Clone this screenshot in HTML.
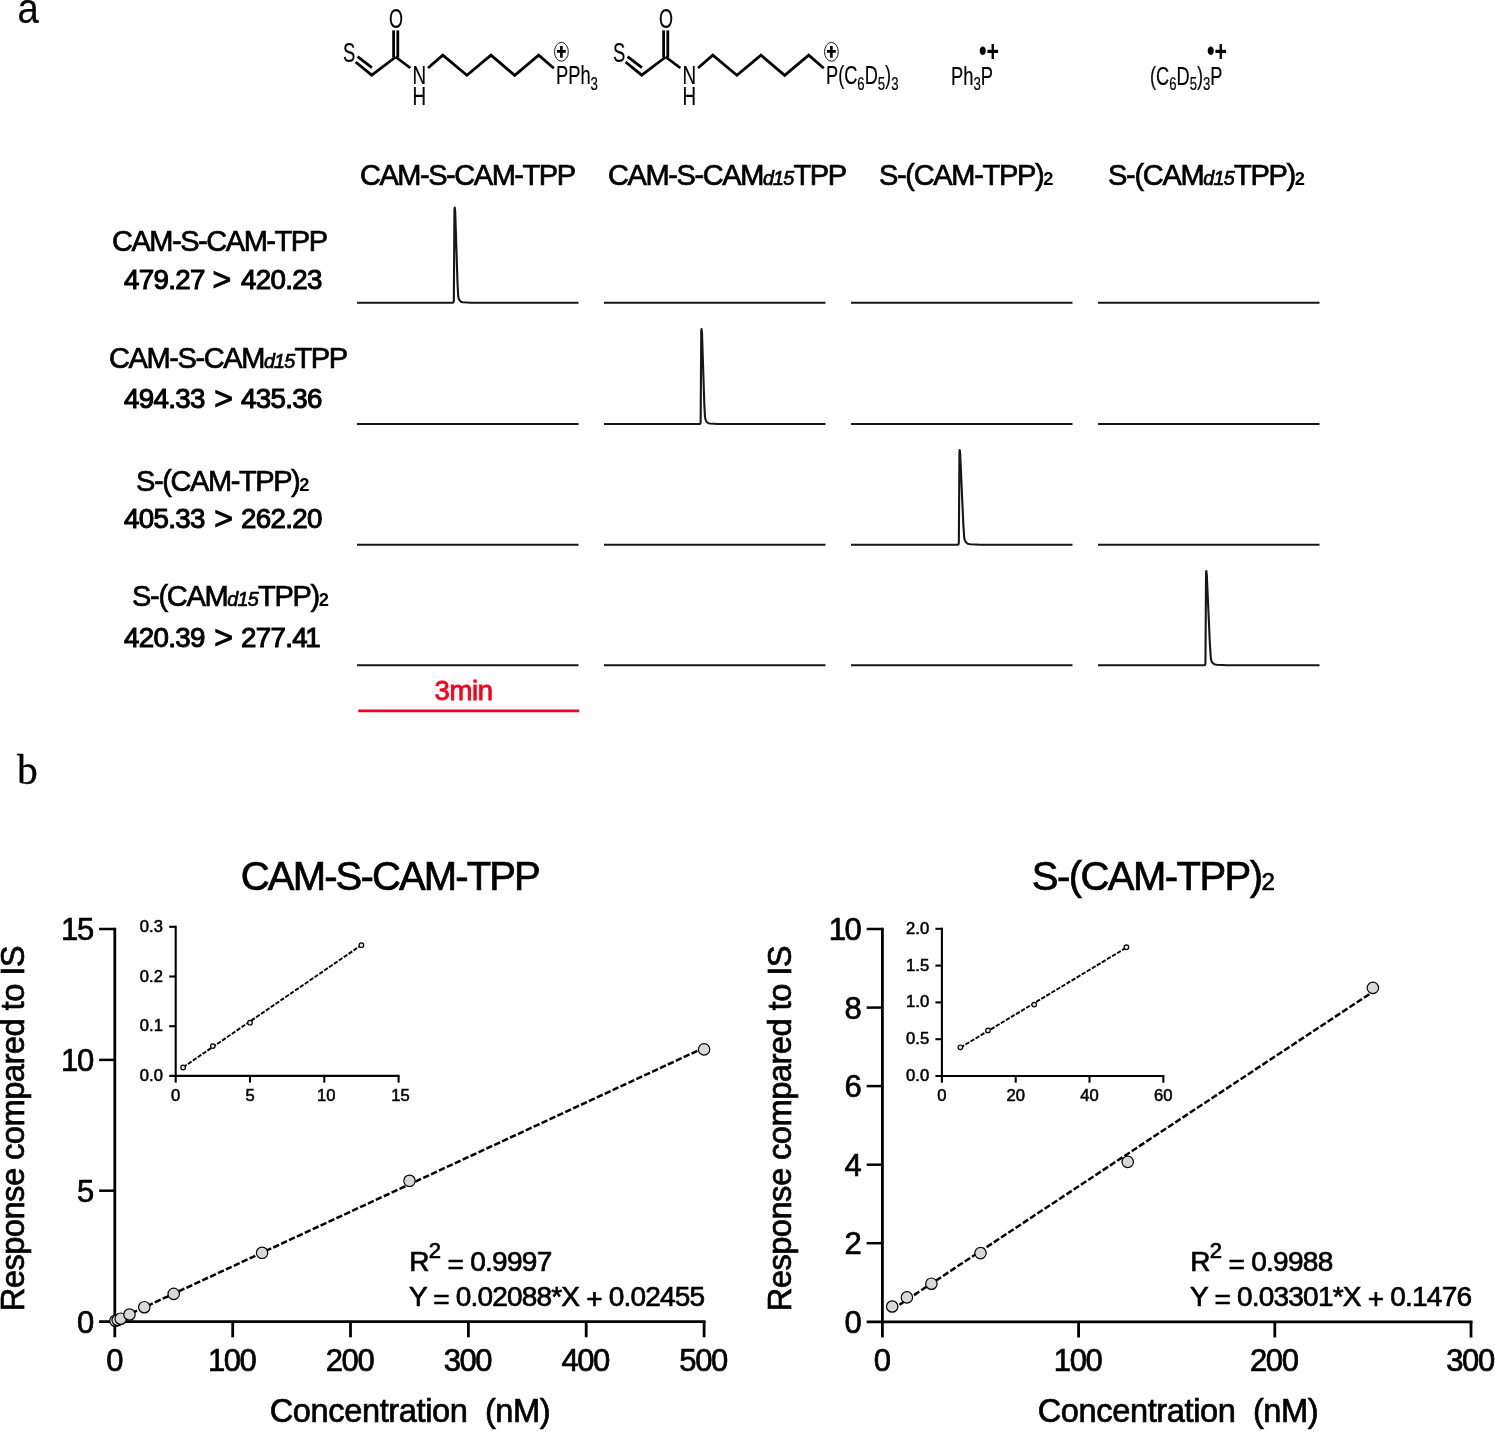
<!DOCTYPE html>
<html lang="en"><head><meta charset="utf-8"><title>Figure</title>
<style>html,body{margin:0;padding:0;background:#fff;}body{width:1495px;height:1431px;overflow:hidden;}svg{display:block;}text{font-family:"Liberation Sans",sans-serif;}.ser{font-family:"Liberation Serif",serif;}.b{stroke:#000;stroke-width:0.7px;}.n{stroke:#000;stroke-width:1.05px;}.c{stroke:#000;stroke-width:0.2px;}.s{stroke:#000;stroke-width:0.55px;}</style>
</head><body>
<svg width="1495" height="1431" viewBox="0 0 1495 1431">
<rect width="1495" height="1431" fill="#fff"/>
<text transform="translate(17.5,23.1) scale(0.9,1)" font-size="42.5" class="c">a</text>
<text x="16.9" y="784.2" font-size="41.6" class="ser" stroke="#000" stroke-width="0.3">b</text>
<g transform="translate(0,0)">
<g fill="none" stroke="#000" stroke-width="2.8" stroke-linecap="butt" stroke-linejoin="miter">
<path d="M355.6,62.0 L371.7,75.2 L395.7,57.0"/>
<path d="M357.6,56.6 L371.9,67.6"/>
<path d="M393.6,30.4 V57.5"/>
<path d="M397.8,30.4 V57.5"/>
<path d="M395.7,57.0 L410.4,68.0"/>
<path d="M428,68.0 L442.8,55.2 L466.9,75.3 L491,55.2 L514.7,75.3 L538.7,55.2 L553.8,68.2"/>
</g>
<text x="343.0" y="62.0" font-size="27" textLength="12.3" lengthAdjust="spacingAndGlyphs" class="c" >S</text>
<text x="388.9" y="27.9" font-size="27" textLength="14.0" lengthAdjust="spacingAndGlyphs" class="c" >O</text>
<text x="412.5" y="83.9" font-size="25.7" textLength="13.6" lengthAdjust="spacingAndGlyphs" class="c" >N</text>
<text x="412.5" y="104.8" font-size="25.7" textLength="13.6" lengthAdjust="spacingAndGlyphs" class="c" >H</text>
<ellipse cx="561.4" cy="51.8" rx="6.9" ry="9.4" fill="none" stroke="#000" stroke-width="0.9"/>
<path d="M557,51.4 H565.8 M561.4,46.1 V57.7" stroke="#000" stroke-width="2.6" fill="none"/>
<text class="c" x="556" y="83.7" font-size="25.7" textLength="42" lengthAdjust="spacingAndGlyphs">PPh<tspan dy="6.4" font-size="18.6">3</tspan></text>
</g>
<g transform="translate(270,0)">
<g fill="none" stroke="#000" stroke-width="2.8" stroke-linecap="butt" stroke-linejoin="miter">
<path d="M355.6,62.0 L371.7,75.2 L395.7,57.0"/>
<path d="M357.6,56.6 L371.9,67.6"/>
<path d="M393.6,30.4 V57.5"/>
<path d="M397.8,30.4 V57.5"/>
<path d="M395.7,57.0 L410.4,68.0"/>
<path d="M428,68.0 L442.8,55.2 L466.9,75.3 L491,55.2 L514.7,75.3 L538.7,55.2 L553.8,68.2"/>
</g>
<text x="343.0" y="62.0" font-size="27" textLength="12.3" lengthAdjust="spacingAndGlyphs" class="c" >S</text>
<text x="388.9" y="27.9" font-size="27" textLength="14.0" lengthAdjust="spacingAndGlyphs" class="c" >O</text>
<text x="412.5" y="83.9" font-size="25.7" textLength="13.6" lengthAdjust="spacingAndGlyphs" class="c" >N</text>
<text x="412.5" y="104.8" font-size="25.7" textLength="13.6" lengthAdjust="spacingAndGlyphs" class="c" >H</text>
<ellipse cx="561.4" cy="51.8" rx="6.9" ry="9.4" fill="none" stroke="#000" stroke-width="0.9"/>
<path d="M557,51.4 H565.8 M561.4,46.1 V57.7" stroke="#000" stroke-width="2.6" fill="none"/>
<text class="c" x="556" y="83.7" font-size="25.7" textLength="72.5" lengthAdjust="spacingAndGlyphs">P(C<tspan dy="6.4" font-size="18.6">6</tspan><tspan dy="-6.4">D</tspan><tspan dy="6.4" font-size="18.6">5</tspan><tspan dy="-6.4">)</tspan><tspan dy="6.4" font-size="18.6">3</tspan></text>
</g>
<text class="c" x="951" y="84.6" font-size="25.7" textLength="42" lengthAdjust="spacingAndGlyphs">Ph<tspan dy="5.5" font-size="18.6">3</tspan><tspan dy="-5.5">P</tspan></text>
<text transform="translate(979,61.0) scale(1,1.2)" font-size="25" font-weight="bold" textLength="20" lengthAdjust="spacingAndGlyphs">•+</text>
<text class="c" x="1150" y="84.6" font-size="25.7" textLength="72.5" lengthAdjust="spacingAndGlyphs">(C<tspan dy="5.5" font-size="18.6">6</tspan><tspan dy="-5.5">D</tspan><tspan dy="5.5" font-size="18.6">5</tspan><tspan dy="-5.5">)</tspan><tspan dy="5.5" font-size="18.6">3</tspan><tspan dy="-5.5">P</tspan></text>
<text transform="translate(1207,61.0) scale(1,1.2)" font-size="25" font-weight="bold" textLength="20" lengthAdjust="spacingAndGlyphs">•+</text>
<text x="360" y="185" font-size="29" textLength="216" lengthAdjust="spacing" class="b" >CAM-S-CAM-TPP</text>
<text class="b" x="608" y="185" font-size="29" textLength="239" lengthAdjust="spacing">CAM-S-CAM<tspan font-size="19.7" font-style="italic" stroke-width="0.7" letter-spacing="0.6">d15</tspan>TPP</text>
<text class="b" x="879" y="185" font-size="29" textLength="174.5" lengthAdjust="spacing">S-(CAM-TPP)<tspan font-size="18.3" font-weight="bold" stroke-width="0">2</tspan></text>
<text class="b" x="1108" y="185" font-size="29" textLength="197" lengthAdjust="spacing">S-(CAM<tspan font-size="19.7" font-style="italic" stroke-width="0.7" letter-spacing="0.6">d15</tspan>TPP)<tspan font-size="18.3" font-weight="bold" stroke-width="0">2</tspan></text>
<text x="112" y="251.3" font-size="29" textLength="216" lengthAdjust="spacing" class="b" >CAM-S-CAM-TPP</text>
<text class="n" y="288.8" font-size="27.7" letter-spacing="-0.65"><tspan x="123.9">479.27</tspan><tspan x="212.4" font-size="32" dy="0.9">&gt;</tspan><tspan x="240.9" dy="-0.9">420.23</tspan></text>
<text class="b" x="109" y="367.5" font-size="29" textLength="239" lengthAdjust="spacing">CAM-S-CAM<tspan font-size="19.7" font-style="italic" stroke-width="0.7" letter-spacing="0.6">d15</tspan>TPP</text>
<text class="n" y="408.1" font-size="27.7" letter-spacing="-0.65"><tspan x="123.9">494.33</tspan><tspan x="214.2" font-size="32" dy="0.9">&gt;</tspan><tspan x="240.9" dy="-0.9">435.36</tspan></text>
<text class="b" x="136" y="491" font-size="29" textLength="173.5" lengthAdjust="spacing">S-(CAM-TPP)<tspan font-size="18.3" font-weight="bold" stroke-width="0">2</tspan></text>
<text class="n" y="527.6" font-size="27.7" letter-spacing="-0.65"><tspan x="123.9">405.33</tspan><tspan x="214.2" font-size="32" dy="0.9">&gt;</tspan><tspan x="240.9" dy="-0.9">262.20</tspan></text>
<text class="b" x="132" y="606" font-size="29" textLength="197" lengthAdjust="spacing">S-(CAM<tspan font-size="19.7" font-style="italic" stroke-width="0.7" letter-spacing="0.6">d15</tspan>TPP)<tspan font-size="18.3" font-weight="bold" stroke-width="0">2</tspan></text>
<text class="n" y="646.9" font-size="27.7" letter-spacing="-0.65"><tspan x="123.9">420.39</tspan><tspan x="214.2" font-size="32" dy="0.9">&gt;</tspan><tspan x="240.9" dy="-0.9">277.4<tspan dx="-1.6">1</tspan></tspan></text>
<g fill="none" stroke="#161616" stroke-width="2.1" stroke-linejoin="round" stroke-linecap="butt">
<path d="M357,302.8 H452.8 Q453.8,302.8 453.84999999999997,300.3 L454.45,209.6 L454.75,207.6 L455.2,211.6 L457.50,282.8 L458.20,295.8 Q458.90,301.90000000000003 462.70,302.3 L470.70,302.8 H578.5"/>
<path d="M604,302.8 H825.5"/>
<path d="M851,302.8 H1072.5"/>
<path d="M1098,302.8 H1319.5"/>
<path d="M357,424.0 H578.5"/>
<path d="M604,424.0 H699.6 Q700.6,424.0 700.65,421.5 L701.25,331 L701.55,329 L702.0,333 L704.30,404.0 L705.00,417.0 Q705.70,423.1 709.50,423.5 L717.50,424.0 H825.5"/>
<path d="M851,424.0 H1072.5"/>
<path d="M1098,424.0 H1319.5"/>
<path d="M357,544.8 H578.5"/>
<path d="M604,544.8 H825.5"/>
<path d="M851,544.8 H957.8000000000001 Q958.8000000000001,544.8 958.85,542.3 L959.45,452 L959.75,450 L960.2,454 L963.34,524.8 L964.25,537.8 Q965.16,543.9 970.10,544.3 L980.50,544.8 H1072.5"/>
<path d="M1098,544.8 H1319.5"/>
<path d="M357,665.3 H578.5"/>
<path d="M604,665.3 H825.5"/>
<path d="M851,665.3 H1072.5"/>
<path d="M1098,665.3 H1204.3999999999999 Q1205.3999999999999,665.3 1205.45,662.8 L1206.05,573 L1206.35,571 L1206.8,575 L1209.94,645.3 L1210.85,658.3 Q1211.76,664.4 1216.70,664.8 L1227.10,665.3 H1319.5"/>
</g>
<path d="M358.3,710.9 H579.2" stroke="#f7001a" stroke-width="2.6" fill="none"/>
<text x="434.5" y="700.4" font-size="27.5" textLength="58.5" lengthAdjust="spacing" fill="#f7001a" stroke="#f7001a" stroke-width="0.8">3min</text>
<g fill="none" stroke="#000" stroke-width="2.8">
<path d="M114.8,927.8 V1321.6"/>
<path d="M99.1,1321.6 H705.6"/>
<path d="M99.1,1190.7 H114.8" stroke-width="2.5"/>
<path d="M99.1,1059.9 H114.8" stroke-width="2.5"/>
<path d="M99.1,929.0 H114.8" stroke-width="2.5"/>
<path d="M114.8,1321.6 V1337.3"/>
<path d="M232.7,1321.6 V1337.3"/>
<path d="M350.5,1321.6 V1337.3"/>
<path d="M468.4,1321.6 V1337.3"/>
<path d="M586.2,1321.6 V1337.3"/>
<path d="M704.1,1321.6 V1337.3"/>
</g>
<text x="92.8" y="1332.6" font-size="31" text-anchor="end" class="b" letter-spacing="-1.4">0</text>
<text x="92.8" y="1201.7" font-size="31" text-anchor="end" class="b" letter-spacing="-1.4">5</text>
<text x="92.8" y="1070.9" font-size="31" text-anchor="end" class="b" letter-spacing="-1.4">10</text>
<text x="92.8" y="940.0" font-size="31" text-anchor="end" class="b" letter-spacing="-1.4">15</text>
<text x="114.8" y="1370.6" font-size="31" text-anchor="middle" class="b" >0</text>
<text x="231.7" y="1370.6" font-size="31" text-anchor="middle" class="b" letter-spacing="-1.4">100</text>
<text x="349.5" y="1370.6" font-size="31" text-anchor="middle" class="b" letter-spacing="-1.4">200</text>
<text x="467.4" y="1370.6" font-size="31" text-anchor="middle" class="b" letter-spacing="-1.4">300</text>
<text x="585.2" y="1370.6" font-size="31" text-anchor="middle" class="b" letter-spacing="-1.4">400</text>
<text x="703.1" y="1370.6" font-size="31" text-anchor="middle" class="b" letter-spacing="-1.4">500</text>
<path d="M115.4,1320.7 L704.1,1047.7" stroke="#000" stroke-width="2.5" stroke-dasharray="6.4 2.3" fill="none"/>
<circle cx="115.4" cy="1320.7" r="5.7" fill="#d8d8d8" stroke="#000" stroke-width="1.2"/>
<circle cx="117.7" cy="1320.0" r="5.7" fill="#d8d8d8" stroke="#000" stroke-width="1.2"/>
<circle cx="120.7" cy="1318.7" r="5.7" fill="#d8d8d8" stroke="#000" stroke-width="1.2"/>
<circle cx="129.5" cy="1314.5" r="5.7" fill="#d8d8d8" stroke="#000" stroke-width="1.2"/>
<circle cx="144.3" cy="1307.2" r="5.7" fill="#d8d8d8" stroke="#000" stroke-width="1.2"/>
<circle cx="173.7" cy="1293.9" r="5.7" fill="#d8d8d8" stroke="#000" stroke-width="1.2"/>
<circle cx="262.1" cy="1252.8" r="5.7" fill="#d8d8d8" stroke="#000" stroke-width="1.2"/>
<circle cx="409.5" cy="1180.8" r="5.7" fill="#d8d8d8" stroke="#000" stroke-width="1.2"/>
<circle cx="704.1" cy="1049.4" r="5.7" fill="#d8d8d8" stroke="#000" stroke-width="1.2"/>
<g fill="none" stroke="#000" stroke-width="2.8">
<path d="M882.4,927.8 V1321.8"/>
<path d="M866.6999999999999,1321.8 H1472.5"/>
<path d="M866.6999999999999,1243.2 H882.4" stroke-width="2.5"/>
<path d="M866.6999999999999,1164.7 H882.4" stroke-width="2.5"/>
<path d="M866.6999999999999,1086.1 H882.4" stroke-width="2.5"/>
<path d="M866.6999999999999,1007.6 H882.4" stroke-width="2.5"/>
<path d="M866.6999999999999,929.0 H882.4" stroke-width="2.5"/>
<path d="M882.4,1321.8 V1337.5"/>
<path d="M1078.6,1321.8 V1337.5"/>
<path d="M1274.8,1321.8 V1337.5"/>
<path d="M1471.0,1321.8 V1337.5"/>
</g>
<text x="860.4" y="1332.8" font-size="31" text-anchor="end" class="b" letter-spacing="-1.4">0</text>
<text x="860.4" y="1254.2" font-size="31" text-anchor="end" class="b" letter-spacing="-1.4">2</text>
<text x="860.4" y="1175.7" font-size="31" text-anchor="end" class="b" letter-spacing="-1.4">4</text>
<text x="860.4" y="1097.1" font-size="31" text-anchor="end" class="b" letter-spacing="-1.4">6</text>
<text x="860.4" y="1018.6" font-size="31" text-anchor="end" class="b" letter-spacing="-1.4">8</text>
<text x="860.4" y="940.0" font-size="31" text-anchor="end" class="b" letter-spacing="-1.4">10</text>
<text x="882.4" y="1370.8" font-size="31" text-anchor="middle" class="b" >0</text>
<text x="1077.6" y="1370.8" font-size="31" text-anchor="middle" class="b" letter-spacing="-1.4">100</text>
<text x="1273.8" y="1370.8" font-size="31" text-anchor="middle" class="b" letter-spacing="-1.4">200</text>
<text x="1470.0" y="1370.8" font-size="31" text-anchor="middle" class="b" letter-spacing="-1.4">300</text>
<path d="M892.2,1309.5 L1372.9,991.8" stroke="#000" stroke-width="2.5" stroke-dasharray="6.4 2.3" fill="none"/>
<circle cx="892.2" cy="1306.5" r="5.7" fill="#d8d8d8" stroke="#000" stroke-width="1.2"/>
<circle cx="906.9" cy="1297.4" r="5.7" fill="#d8d8d8" stroke="#000" stroke-width="1.2"/>
<circle cx="931.4" cy="1283.7" r="5.7" fill="#d8d8d8" stroke="#000" stroke-width="1.2"/>
<circle cx="980.5" cy="1253.1" r="5.7" fill="#d8d8d8" stroke="#000" stroke-width="1.2"/>
<circle cx="1127.7" cy="1161.9" r="5.7" fill="#d8d8d8" stroke="#000" stroke-width="1.2"/>
<circle cx="1372.9" cy="987.9" r="5.7" fill="#d8d8d8" stroke="#000" stroke-width="1.2"/>
<text x="240.8" y="890.4" font-size="40" textLength="300" lengthAdjust="spacing" class="b" >CAM-S-CAM-TPP</text>
<text class="b" x="1031.8" y="890.4" font-size="40" textLength="243" lengthAdjust="spacing">S-(CAM-TPP)<tspan font-size="24">2</tspan></text>
<text x="269.7" y="1422.3" font-size="32.6" textLength="281" lengthAdjust="spacing" class="b" >Concentration&#160;&#160;(nM)</text>
<text x="1037.7" y="1422.3" font-size="32.6" textLength="281" lengthAdjust="spacing" class="b" >Concentration&#160;&#160;(nM)</text>
<text class="b" transform="translate(23.7,1311.3) rotate(-90)" font-size="32.8" textLength="366" lengthAdjust="spacing">Response compared to IS</text>
<text class="b" transform="translate(791.2,1311.3) rotate(-90)" font-size="32.8" textLength="366" lengthAdjust="spacing">Response compared to IS</text>
<text class="b" x="409.3" y="1271" font-size="28" textLength="143" lengthAdjust="spacing">R<tspan dy="-13.2" font-size="22">2</tspan><tspan dy="13.2"> </tspan><tspan dy="2.6">=</tspan><tspan dy="-2.6"> 0.9997</tspan></text>
<text x="409" y="1306" font-size="28" textLength="296" lengthAdjust="spacing" class="b" >Y <tspan dy="2.6">=</tspan><tspan dy="-2.6"> 0.02088*X </tspan><tspan dy="2">+</tspan><tspan dy="-2"> 0.02455</tspan></text>
<text class="b" x="1190.3" y="1271" font-size="28" textLength="143" lengthAdjust="spacing">R<tspan dy="-13.2" font-size="22">2</tspan><tspan dy="13.2"> </tspan><tspan dy="2.6">=</tspan><tspan dy="-2.6"> 0.9988</tspan></text>
<text x="1190" y="1306" font-size="28" textLength="282" lengthAdjust="spacing" class="b" >Y <tspan dy="2.6">=</tspan><tspan dy="-2.6"> 0.03301*X </tspan><tspan dy="2">+</tspan><tspan dy="-2"> 0.1476</tspan></text>
<g fill="none" stroke="#000" stroke-width="2.1">
<path d="M175.7,925.75 V1075.9"/>
<path d="M169.2,1075.9 H399.65"/>
<path d="M169.2,1026.2 H175.7"/>
<path d="M169.2,976.5 H175.7"/>
<path d="M169.2,926.8 H175.7"/>
<path d="M175.7,1075.9 V1082.6000000000001"/>
<path d="M250.0,1075.9 V1082.6000000000001"/>
<path d="M324.3,1075.9 V1082.6000000000001"/>
<path d="M398.6,1075.9 V1082.6000000000001"/>
</g>
<text x="163.1" y="1080.9" font-size="16.6" text-anchor="end" class="s" letter-spacing="0.1">0.0</text>
<text x="163.1" y="1031.2" font-size="16.6" text-anchor="end" class="s" letter-spacing="0.1">0.1</text>
<text x="163.1" y="981.5" font-size="16.6" text-anchor="end" class="s" letter-spacing="0.1">0.2</text>
<text x="163.1" y="931.8" font-size="16.6" text-anchor="end" class="s" letter-spacing="0.1">0.3</text>
<text x="175.7" y="1101.1" font-size="16.6" text-anchor="middle" class="s" >0</text>
<text x="250.0" y="1101.1" font-size="16.6" text-anchor="middle" class="s" >5</text>
<text x="326.3" y="1101.1" font-size="16.6" text-anchor="middle" class="s" >10</text>
<text x="400.6" y="1101.1" font-size="16.6" text-anchor="middle" class="s" >15</text>
<path d="M183.1,1067.3 L361.4,945.1" stroke="#000" stroke-width="1.9" stroke-dasharray="4.4 1.5" fill="none"/>
<circle cx="183.1" cy="1067.5" r="2.3" fill="#e6e6e6" stroke="#000" stroke-width="1.2"/>
<circle cx="212.8" cy="1046.1" r="2.3" fill="#e6e6e6" stroke="#000" stroke-width="1.2"/>
<circle cx="250.0" cy="1022.7" r="2.3" fill="#e6e6e6" stroke="#000" stroke-width="1.2"/>
<circle cx="361.4" cy="945.2" r="2.3" fill="#e6e6e6" stroke="#000" stroke-width="1.2"/>
<g fill="none" stroke="#000" stroke-width="2.1">
<path d="M941.9,927.75 V1076.0"/>
<path d="M935.4,1076.0 H1164.35"/>
<path d="M935.4,1039.2 H941.9"/>
<path d="M935.4,1002.4 H941.9"/>
<path d="M935.4,965.6 H941.9"/>
<path d="M935.4,928.8 H941.9"/>
<path d="M941.9,1076.0 V1082.7"/>
<path d="M1015.7,1076.0 V1082.7"/>
<path d="M1089.5,1076.0 V1082.7"/>
<path d="M1163.3,1076.0 V1082.7"/>
</g>
<text x="929.3" y="1081.0" font-size="16.6" text-anchor="end" class="s" letter-spacing="0.1">0.0</text>
<text x="929.3" y="1044.2" font-size="16.6" text-anchor="end" class="s" letter-spacing="0.1">0.5</text>
<text x="929.3" y="1007.4" font-size="16.6" text-anchor="end" class="s" letter-spacing="0.1">1.0</text>
<text x="929.3" y="970.6" font-size="16.6" text-anchor="end" class="s" letter-spacing="0.1">1.5</text>
<text x="929.3" y="933.8" font-size="16.6" text-anchor="end" class="s" letter-spacing="0.1">2.0</text>
<text x="941.9" y="1101.2" font-size="16.6" text-anchor="middle" class="s" >0</text>
<text x="1015.7" y="1101.2" font-size="16.6" text-anchor="middle" class="s" >20</text>
<text x="1089.5" y="1101.2" font-size="16.6" text-anchor="middle" class="s" >40</text>
<text x="1163.3" y="1101.2" font-size="16.6" text-anchor="middle" class="s" >60</text>
<path d="M960.4,1047.6 L1126.4,947.6" stroke="#000" stroke-width="1.9" stroke-dasharray="4.4 1.5" fill="none"/>
<circle cx="960.4" cy="1047.3" r="2.3" fill="#e6e6e6" stroke="#000" stroke-width="1.2"/>
<circle cx="988.0" cy="1030.4" r="2.3" fill="#e6e6e6" stroke="#000" stroke-width="1.2"/>
<circle cx="1034.2" cy="1004.6" r="2.3" fill="#e6e6e6" stroke="#000" stroke-width="1.2"/>
<circle cx="1126.4" cy="947.2" r="2.3" fill="#e6e6e6" stroke="#000" stroke-width="1.2"/>
</svg>
</body></html>
